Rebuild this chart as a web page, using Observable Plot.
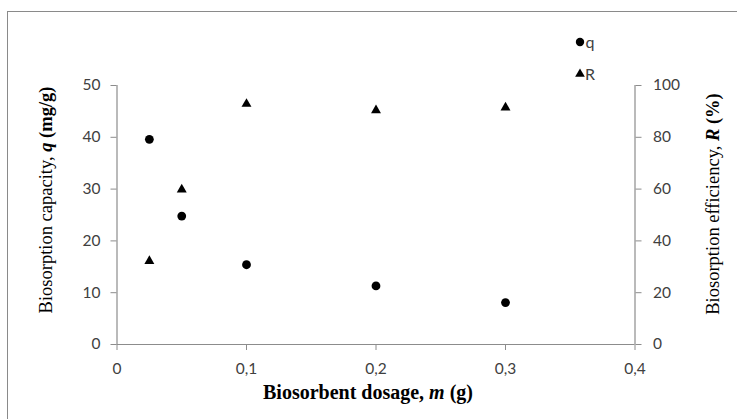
<!DOCTYPE html>
<html>
<head>
<meta charset="utf-8">
<script src="https://cdn.jsdelivr.net/npm/d3@7"></script>
<script src="https://cdn.jsdelivr.net/npm/@observablehq/plot@0.6"></script>
<style>
  html, body { margin: 0; padding: 0; background: #fff; }
  #wrap { position: relative; width: 737px; height: 419px; overflow: hidden; }
  #frame { position: absolute; left: 7px; top: 11px; width: 740px; height: 420px; border: 1.5px solid #8a8a8a; box-sizing: border-box; }
  #chart { position: absolute; left: 0; top: 0; }
  #chart svg text.leg { font-family: Lato, 'Open Sans', sans-serif; font-size: 16px; }
</style>
</head>
<body>
<div id="wrap"><div id="frame"></div><div id="chart"></div></div>
<script>
// Data
const dosage = [0.025, 0.05, 0.1, 0.2, 0.3];          // m (g)
const capacity = [39.6, 24.8, 15.4, 11.3, 8.1];       // q (mg/g)
const efficiency = [32.2, 59.8, 92.9, 90.4, 91.5];    // R (%)
const xTicks = [0, 0.1, 0.2, 0.3, 0.4];
const qTicks = [0, 10, 20, 30, 40, 50];
const rTicks = [0, 20, 40, 60, 80, 100];
const legendLabels = ["q", "R"];
const legendSymbols = ["circle", "triangle"];

const rows = dosage.map((m, i) => ({m, q: capacity[i], R: efficiency[i]}));
const rMax = rTicks[rTicks.length - 1], qMax = qTicks[qTicks.length - 1];
const toQ = r => r * qMax / rMax;

const axisColor = "#8c8c8c";
const labelColor = "#404040";
const sans = "Lato, 'Open Sans', sans-serif";
const fmtX = d => d === 0 ? "0" : String(d).replace(".", ",");

const plot = Plot.plot({
  width: 737,
  height: 419,
  marginLeft: 116.5,
  marginRight: 102.5,
  marginTop: 85,
  marginBottom: 75,
  style: {fontFamily: sans, fontSize: "15.5px", color: labelColor, background: "transparent"},
  x: {domain: [0, 0.4], label: null},
  y: {domain: [0, 50], label: null},
  marks: [
    Plot.ruleX([0, 0.4], {stroke: axisColor, strokeWidth: 1.2}),
    Plot.ruleY([0], {stroke: axisColor, strokeWidth: 1.2}),
    Plot.axisX({ticks: xTicks, tickFormat: fmtX, tickSize: 6, tickPadding: 12, stroke: axisColor, color: labelColor}),
    Plot.axisY({anchor: "left", ticks: qTicks, tickSize: 6, tickPadding: 10.5, stroke: axisColor, color: labelColor}),
    Plot.axisY({anchor: "right", ticks: rTicks.map(toQ), tickFormat: d => String(Math.round(d * rMax / qMax)), tickSize: 6, tickPadding: 12, stroke: axisColor, color: labelColor}),
    Plot.dot(rows, {x: "m", y: "q", symbol: "circle", r: 4.4, fill: "black", stroke: "none"}),
    Plot.dot(rows, {x: "m", y: d => toQ(d.R), symbol: "triangle", r: 3.7, fill: "black", stroke: "none"})
  ]
});
document.getElementById("chart").appendChild(plot);

const svg = d3.select(plot);
const serif = "'Liberation Serif', 'Times New Roman', serif";

// Axis titles with mixed styles
function title(x, y, rotate, size, parts) {
  const t = svg.append("text")
    .attr("transform", `translate(${x},${y}) rotate(${rotate})`)
    .attr("text-anchor", "middle")
    .style("font-family", serif)
    .style("font-size", size)
    .attr("fill", "#000");
  parts.forEach(([s, w, st]) => t.append("tspan").text(s).style("font-weight", w).style("font-style", st));
}
title(368, 399, 0, "20px", [["Biosorbent dosage, ", "bold", "normal"], ["m", "bold", "italic"], [" (g)", "bold", "normal"]]);
title(52, 200, -90, "18.5px", [["Biosorption capacity, ", "normal", "normal"], ["q", "bold", "italic"], [" (mg/g)", "bold", "normal"]]);
title(719, 204, -90, "18.5px", [["Biosorption efficiency, ", "normal", "normal"], ["R", "bold", "italic"], [" (%)", "bold", "normal"]]);

// Legend
const lg = svg.append("g").attr("transform", "translate(580,42)");
legendLabels.forEach((lab, i) => {
  const g = lg.append("g").attr("transform", `translate(0,${i * 32})`);
  const sym = legendSymbols[i] === "circle" ? d3.symbolCircle : d3.symbolTriangle;
  const size = legendSymbols[i] === "circle" ? Math.PI * 4.2 * 4.2 : Math.PI * 3.6 * 3.6;
  g.append("path").attr("d", d3.symbol(sym, size)()).attr("fill", "black");
  g.append("text").attr("class", "leg").attr("x", 10).attr("y", 0).attr("dy", "0.36em")
    .attr("fill", labelColor).text(lab);
});
</script>
</body>
</html>
